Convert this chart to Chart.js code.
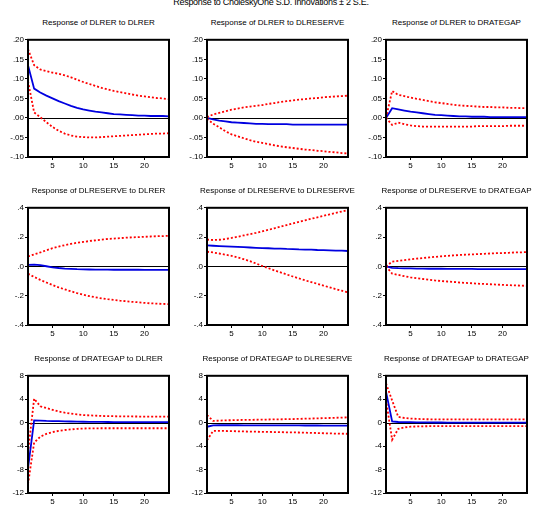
<!DOCTYPE html>
<html>
<head>
<meta charset="utf-8">
<script src="https://cdn.jsdelivr.net/npm/chart.js@4.4.1/dist/chart.umd.min.js"></script>
<style>
    body { margin: 0; background: #fff; width: 535px; height: 517px; position: relative; overflow: hidden;
           font-family: "Liberation Sans", Arial, sans-serif; }
    .panel { position: absolute; }
    .ttl { position: absolute; font-size: 8px; text-align: center; white-space: nowrap; color: #000; }
    .xl { position: absolute; font-size: 8px; line-height: 9px; width: 20px; margin-left: -10px; text-align: center; color: #000; }
    #main { position: absolute; top: -3px; left: 0; width: 542px; text-align: center; font-size: 9px; letter-spacing: -0.3px; }
</style>
</head>
<body>
<div id="main">Response to CholeskyOne S.D. Innovations ± 2 S.E.</div>

<script>
// Horizons (periods after the shock)
const horizons = [1, 2, 3, 4, 5, 6, 7, 8, 9, 10, 11, 12, 13, 14, 15, 16, 17, 18, 19, 20, 21, 22, 23, 24];
const xTicks = [5, 10, 15, 20];

// Y tick values and labels, one set per row
const rowTickValues = [
    [-0.10, -0.05, 0.00, 0.05, 0.10, 0.15, 0.20],
    [-0.4, -0.2, 0.0, 0.2, 0.4],
    [-12, -8, -4, 0, 4, 8]
];
const rowTickLabels = [
    ['-.10', '-.05', '.00', '.05', '.10', '.15', '.20'],
    ['-.4', '-.2', '.0', '.2', '.4'],
    ['-12', '-8', '-4', '0', '4', '8']
];

const panelTitles = [
    'Response of DLRER to DLRER', 'Response of DLRER to DLRESERVE', 'Response of DLRER to DRATEGAP',
    'Response of DLRESERVE to DLRER', 'Response of DLRESERVE to DLRESERVE', 'Response of DLRESERVE to DRATEGAP',
    'Response of DRATEGAP to DLRER', 'Response of DRATEGAP to DLRESERVE', 'Response of DRATEGAP to DRATEGAP'
];

// DLRER responses
const lrerLrer = [0.135, 0.075, 0.065, 0.057, 0.050, 0.043, 0.037, 0.031, 0.026, 0.022, 0.019, 0.016, 0.014, 0.012, 0.010, 0.009, 0.008, 0.007, 0.006, 0.006, 0.005, 0.005, 0.005, 0.004];
const lrerLrerUp = [0.176, 0.135, 0.124, 0.120, 0.116, 0.113, 0.109, 0.104, 0.098, 0.092, 0.087, 0.082, 0.077, 0.073, 0.069, 0.066, 0.063, 0.060, 0.057, 0.055, 0.053, 0.051, 0.050, 0.048];
const lrerLrerLo = [0.094, 0.014, 0.002, -0.011, -0.023, -0.033, -0.040, -0.045, -0.048, -0.049, -0.050, -0.050, -0.049, -0.048, -0.047, -0.046, -0.045, -0.044, -0.043, -0.042, -0.041, -0.040, -0.040, -0.039];

const lrerRes = [0.000, -0.004, -0.007, -0.009, -0.011, -0.012, -0.013, -0.014, -0.015, -0.015, -0.016, -0.016, -0.016, -0.016, -0.017, -0.017, -0.017, -0.017, -0.017, -0.017, -0.017, -0.017, -0.017, -0.017];
const lrerResUp = [0.002, 0.009, 0.013, 0.017, 0.021, 0.024, 0.027, 0.029, 0.031, 0.033, 0.036, 0.038, 0.041, 0.043, 0.045, 0.047, 0.048, 0.050, 0.051, 0.053, 0.054, 0.055, 0.056, 0.057];
const lrerResLo = [-0.002, -0.015, -0.024, -0.034, -0.042, -0.047, -0.052, -0.057, -0.061, -0.064, -0.067, -0.070, -0.073, -0.075, -0.077, -0.079, -0.081, -0.082, -0.084, -0.085, -0.087, -0.088, -0.090, -0.091];

const lrerGap = [0.000, 0.025, 0.022, 0.019, 0.016, 0.014, 0.012, 0.010, 0.008, 0.007, 0.006, 0.005, 0.004, 0.004, 0.003, 0.003, 0.003, 0.002, 0.002, 0.002, 0.002, 0.002, 0.002, 0.002];
const lrerGapUp = [0.000, 0.069, 0.059, 0.056, 0.052, 0.049, 0.046, 0.043, 0.040, 0.038, 0.036, 0.034, 0.032, 0.031, 0.030, 0.029, 0.028, 0.028, 0.027, 0.027, 0.026, 0.026, 0.025, 0.025];
const lrerGapLo = [0.000, -0.018, -0.012, -0.016, -0.019, -0.021, -0.022, -0.022, -0.022, -0.022, -0.022, -0.022, -0.022, -0.022, -0.022, -0.021, -0.021, -0.021, -0.021, -0.021, -0.020, -0.020, -0.020, -0.020];

// DLRESERVE responses
const resLrer = [0.010, 0.012, 0.008, 0.001, -0.006, -0.011, -0.015, -0.017, -0.019, -0.020, -0.021, -0.022, -0.022, -0.022, -0.023, -0.023, -0.023, -0.023, -0.023, -0.024, -0.024, -0.024, -0.024, -0.024];
const resLrerUp = [0.068, 0.082, 0.095, 0.110, 0.124, 0.135, 0.145, 0.154, 0.161, 0.167, 0.173, 0.178, 0.183, 0.187, 0.190, 0.193, 0.196, 0.198, 0.200, 0.202, 0.204, 0.206, 0.207, 0.209];
const resLrerLo = [-0.050, -0.072, -0.092, -0.110, -0.127, -0.143, -0.157, -0.170, -0.182, -0.193, -0.203, -0.211, -0.218, -0.224, -0.229, -0.234, -0.238, -0.242, -0.245, -0.249, -0.252, -0.254, -0.256, -0.258];

const resRes = [0.143, 0.141, 0.139, 0.137, 0.135, 0.133, 0.131, 0.129, 0.127, 0.125, 0.124, 0.122, 0.121, 0.119, 0.118, 0.116, 0.115, 0.114, 0.112, 0.111, 0.110, 0.108, 0.107, 0.105];
const resResUp = [0.183, 0.180, 0.182, 0.187, 0.194, 0.202, 0.211, 0.220, 0.229, 0.239, 0.249, 0.260, 0.271, 0.282, 0.293, 0.304, 0.314, 0.325, 0.335, 0.345, 0.355, 0.365, 0.375, 0.385];
const resResLo = [0.100, 0.095, 0.088, 0.080, 0.072, 0.061, 0.049, 0.036, 0.020, 0.003, -0.012, -0.027, -0.041, -0.055, -0.069, -0.082, -0.095, -0.107, -0.119, -0.131, -0.143, -0.155, -0.166, -0.177];

const resGap = [0.000, -0.010, -0.012, -0.013, -0.014, -0.015, -0.015, -0.016, -0.016, -0.016, -0.017, -0.017, -0.017, -0.017, -0.017, -0.018, -0.018, -0.018, -0.018, -0.018, -0.018, -0.018, -0.018, -0.018];
const resGapUp = [0.000, 0.033, 0.038, 0.043, 0.049, 0.053, 0.057, 0.061, 0.065, 0.069, 0.072, 0.075, 0.078, 0.080, 0.082, 0.084, 0.086, 0.088, 0.090, 0.091, 0.093, 0.095, 0.096, 0.098];
const resGapLo = [0.000, -0.049, -0.058, -0.067, -0.075, -0.081, -0.086, -0.091, -0.096, -0.100, -0.103, -0.106, -0.110, -0.113, -0.115, -0.118, -0.120, -0.122, -0.124, -0.126, -0.128, -0.130, -0.131, -0.133];

// DRATEGAP responses
const gapLrer = [-7.8, 0.40, 0.35, 0.30, 0.28, 0.25, 0.22, 0.20, 0.18, 0.16, 0.15, 0.14, 0.13, 0.12, 0.11, 0.10, 0.10, 0.10, 0.10, 0.10, 0.10, 0.10, 0.10, 0.10];
const gapLrerUp = [-5.1, 4.1, 2.8, 2.5, 2.2, 1.9, 1.7, 1.55, 1.4, 1.3, 1.25, 1.2, 1.15, 1.12, 1.1, 1.08, 1.07, 1.06, 1.05, 1.05, 1.05, 1.05, 1.05, 1.05];
const gapLrerLo = [-10.5, -3.4, -2.4, -1.9, -1.6, -1.4, -1.25, -1.15, -1.05, -1.0, -0.98, -0.96, -0.95, -0.95, -0.95, -0.95, -0.95, -0.95, -0.95, -0.95, -0.95, -0.95, -0.95, -0.95];

const gapRes = [-0.70, -0.45, -0.44, -0.44, -0.44, -0.44, -0.45, -0.45, -0.45, -0.45, -0.46, -0.46, -0.46, -0.47, -0.47, -0.47, -0.48, -0.48, -0.48, -0.49, -0.49, -0.49, -0.50, -0.50];
const gapResUp = [1.3, 0.30, 0.35, 0.40, 0.42, 0.45, 0.47, 0.49, 0.50, 0.52, 0.54, 0.56, 0.58, 0.60, 0.62, 0.65, 0.68, 0.71, 0.74, 0.77, 0.80, 0.84, 0.87, 0.90];
const gapResLo = [-3.0, -1.40, -1.40, -1.42, -1.45, -1.47, -1.50, -1.52, -1.54, -1.56, -1.58, -1.60, -1.62, -1.64, -1.66, -1.68, -1.71, -1.74, -1.77, -1.80, -1.83, -1.86, -1.88, -1.90];

const gapGap = [5.3, 0.20, 0.12, 0.10, 0.08, 0.06, 0.05, 0.04, 0.03, 0.03, 0.02, 0.02, 0.02, 0.02, 0.02, 0.02, 0.02, 0.02, 0.02, 0.02, 0.02, 0.02, 0.02, 0.02];
const gapGapUp = [6.7, 3.8, 1.0, 0.80, 0.70, 0.65, 0.60, 0.58, 0.56, 0.55, 0.55, 0.55, 0.55, 0.55, 0.55, 0.55, 0.55, 0.55, 0.55, 0.55, 0.55, 0.55, 0.55, 0.55];
const gapGapLo = [3.9, -2.9, -1.05, -0.80, -0.68, -0.64, -0.62, -0.60, -0.60, -0.60, -0.60, -0.60, -0.60, -0.60, -0.60, -0.60, -0.60, -0.60, -0.60, -0.60, -0.60, -0.60, -0.60, -0.60];

const panelSeries = [
    [lrerLrer, lrerLrerUp, lrerLrerLo], [lrerRes, lrerResUp, lrerResLo], [lrerGap, lrerGapUp, lrerGapLo],
    [resLrer, resLrerUp, resLrerLo], [resRes, resResUp, resResLo], [resGap, resGapUp, resGapLo],
    [gapLrer, gapLrerUp, gapLrerLo], [gapRes, gapResUp, gapResLo], [gapGap, gapGapUp, gapGapLo]
];

// Layout of the plot boxes (pixels)
const colLeft = [28, 207, 386];
const rowTop = [38, 206, 374];
const plotW = 141, plotH = 119;
const titleTop = [18, 186, 354];

const tickFont = { family: '"Liberation Sans", Arial, sans-serif', size: 8 };

// zero line + frame around the plot area
const framePlugin = {
    id: 'frame',
    beforeDatasetsDraw(chart) {
        const { ctx, chartArea: a, scales } = chart;
        const y0 = Math.round(scales.y.getPixelForValue(0)) + 0.5;
        ctx.save();
        ctx.strokeStyle = '#000';
        ctx.lineWidth = 1;
        ctx.beginPath();
        ctx.moveTo(a.left, y0);
        ctx.lineTo(a.right, y0);
        ctx.stroke();
        ctx.restore();
    },
    afterDraw(chart) {
        const { ctx, chartArea: a } = chart;
        ctx.save();
        ctx.strokeStyle = '#000';
        ctx.lineWidth = 2;
        ctx.strokeRect(a.left, a.top, a.right - a.left, a.bottom - a.top);
        ctx.restore();
    }
};

panelSeries.forEach((series, i) => {
    const row = Math.floor(i / 3), col = i % 3;
    const left = colLeft[col], top = rowTop[row];
    const boxLeft = left - 30, boxTop = top - 4;

    const box = document.createElement('div');
    box.className = 'panel';
    box.style.left = boxLeft + 'px';
    box.style.top = boxTop + 'px';
    box.style.width = (plotW + 34) + 'px';
    box.style.height = (plotH + 24) + 'px';
    const canvas = document.createElement('canvas');
    box.appendChild(canvas);
    document.body.appendChild(box);

    const ttl = document.createElement('div');
    ttl.className = 'ttl';
    ttl.textContent = panelTitles[i];
    ttl.style.left = (left - 40) + 'px';
    ttl.style.width = (plotW + 80) + 'px';
    ttl.style.top = titleTop[row] + 'px';
    document.body.appendChild(ttl);

    const [resp, up, lo] = series;
    const toXY = arr => arr.map((v, k) => ({ x: horizons[k], y: v }));
    const vals = rowTickValues[row], labs = rowTickLabels[row];

    const chart = new Chart(canvas, {
        type: 'line',
        data: {
            datasets: [
                { data: toXY(up), borderColor: '#ff0000', borderWidth: 1.8, borderDash: [2, 2] },
                { data: toXY(lo), borderColor: '#ff0000', borderWidth: 1.8, borderDash: [2, 2] },
                { data: toXY(resp), borderColor: '#0000e0', borderWidth: 1.8 }
            ]
        },
        options: {
            responsive: true,
            maintainAspectRatio: false,
            animation: false,
            layout: { padding: { left: 2, right: 4, top: 4, bottom: 0 } },
            elements: { point: { radius: 0 }, line: { tension: 0 } },
            plugins: { legend: { display: false }, tooltip: { enabled: false } },
            scales: {
                x: {
                    type: 'linear', min: 1, max: 24,
                    afterBuildTicks: axis => { axis.ticks = xTicks.map(v => ({ value: v })); },
                    afterFit: scale => { scale.height = 20; },
                    grid: { display: true, drawOnChartArea: false, drawTicks: true, tickLength: 3, color: '#000' },
                    border: { display: false },
                    ticks: { display: false }
                },
                y: {
                    min: vals[0], max: vals[vals.length - 1],
                    afterBuildTicks: axis => { axis.ticks = vals.map(v => ({ value: v })); },
                    afterFit: scale => { scale.width = 28; },
                    grid: { display: true, drawOnChartArea: false, drawTicks: true, tickLength: 3, color: '#000' },
                    border: { display: false },
                    ticks: {
                        font: tickFont, color: '#000', padding: 1, autoSkip: false,
                        callback: v => { const k = vals.findIndex(t => Math.abs(t - v) < 1e-9); return k >= 0 ? labs[k] : ''; }
                    }
                }
            }
        },
        plugins: [framePlugin]
    });

    // horizon labels under the axis, placed with the chart's own x scale
    xTicks.forEach(v => {
        const lab = document.createElement('div');
        lab.className = 'xl';
        lab.textContent = String(v);
        lab.style.left = (boxLeft + chart.scales.x.getPixelForValue(v)) + 'px';
        lab.style.top = (boxTop + chart.chartArea.bottom + 4) + 'px';
        document.body.appendChild(lab);
    });
});
</script>
</body>
</html>
